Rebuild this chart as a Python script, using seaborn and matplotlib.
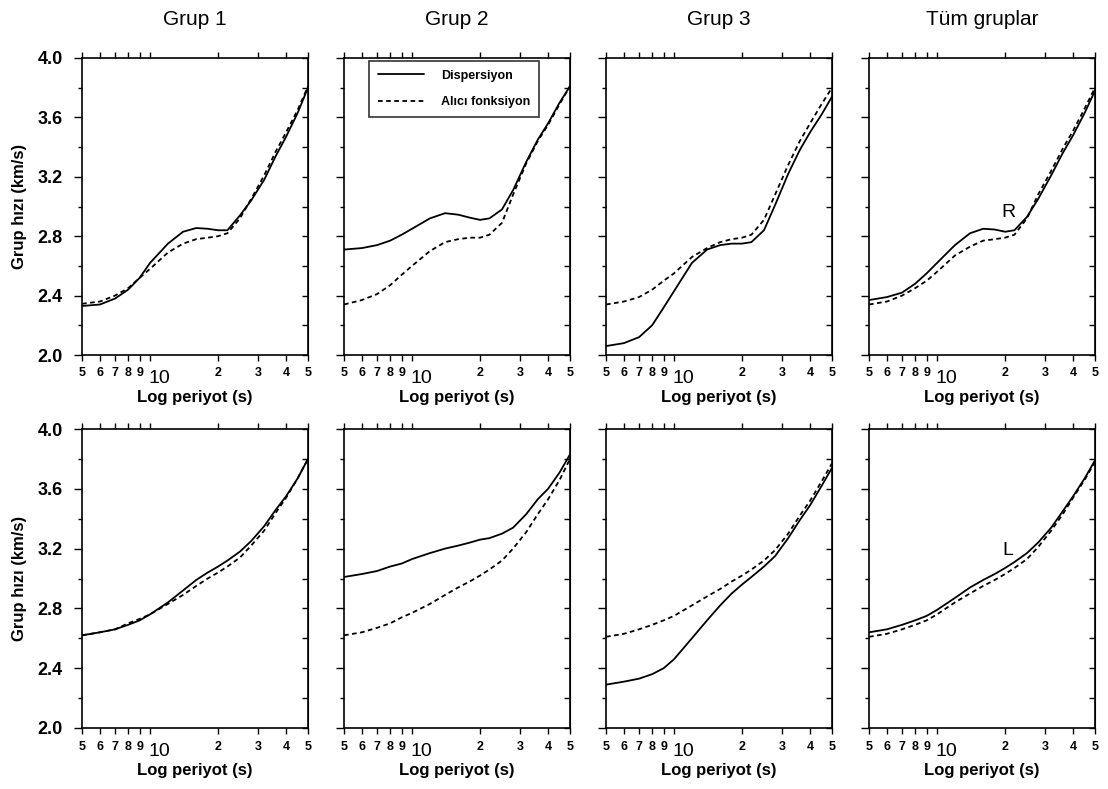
import numpy as np
import pandas as pd
import matplotlib
matplotlib.use('Agg')
import matplotlib.pyplot as plt
from matplotlib.lines import Line2D
from matplotlib.ticker import FixedLocator, NullLocator, MultipleLocator
import seaborn as sns

# periods (s)
periods = [5, 6, 7, 8, 9, 10, 12, 14, 16, 18, 20, 22, 25, 28, 32, 36, 40, 45, 50]

group_names = ['Grup 1', 'Grup 2', 'Grup 3', 'Tüm gruplar']
kinds = ['Dispersiyon', 'Alıcı fonksiyon']

# Rayleigh (R) group velocities, km/s
r_grup1_disp = [2.33, 2.34, 2.38, 2.44, 2.52, 2.62, 2.75, 2.83, 2.855, 2.85, 2.84, 2.84, 2.94, 3.04, 3.18, 3.34, 3.47, 3.63, 3.80]
r_grup1_rf = [2.345, 2.36, 2.40, 2.45, 2.52, 2.58, 2.69, 2.75, 2.78, 2.79, 2.80, 2.82, 2.92, 3.05, 3.21, 3.37, 3.50, 3.65, 3.81]
r_grup2_disp = [2.71, 2.72, 2.74, 2.77, 2.81, 2.85, 2.92, 2.955, 2.945, 2.925, 2.91, 2.92, 2.98, 3.11, 3.30, 3.45, 3.56, 3.70, 3.81]
r_grup2_rf = [2.34, 2.37, 2.41, 2.47, 2.54, 2.60, 2.70, 2.76, 2.78, 2.79, 2.79, 2.81, 2.89, 3.08, 3.29, 3.44, 3.55, 3.69, 3.81]
r_grup3_disp = [2.06, 2.08, 2.12, 2.20, 2.32, 2.43, 2.62, 2.71, 2.74, 2.75, 2.75, 2.76, 2.84, 3.01, 3.22, 3.38, 3.50, 3.62, 3.74]
r_grup3_rf = [2.34, 2.36, 2.39, 2.44, 2.50, 2.55, 2.66, 2.72, 2.76, 2.78, 2.79, 2.81, 2.91, 3.08, 3.28, 3.44, 3.56, 3.69, 3.80]
r_tum_disp = [2.37, 2.39, 2.42, 2.48, 2.55, 2.62, 2.74, 2.82, 2.85, 2.845, 2.83, 2.84, 2.93, 3.05, 3.21, 3.36, 3.48, 3.63, 3.78]
r_tum_rf = [2.34, 2.36, 2.40, 2.45, 2.50, 2.56, 2.67, 2.73, 2.77, 2.78, 2.79, 2.81, 2.92, 3.08, 3.24, 3.39, 3.51, 3.66, 3.80]

# Love (L) group velocities, km/s
l_grup1_disp = [2.62, 2.64, 2.66, 2.69, 2.72, 2.76, 2.84, 2.92, 2.99, 3.04, 3.08, 3.12, 3.18, 3.25, 3.35, 3.46, 3.55, 3.67, 3.80]
l_grup1_rf = [2.62, 2.64, 2.66, 2.70, 2.73, 2.76, 2.83, 2.89, 2.95, 3.00, 3.04, 3.08, 3.14, 3.22, 3.32, 3.44, 3.54, 3.67, 3.80]
l_grup2_disp = [3.01, 3.03, 3.05, 3.08, 3.10, 3.13, 3.17, 3.20, 3.22, 3.24, 3.26, 3.27, 3.30, 3.34, 3.43, 3.53, 3.60, 3.71, 3.83]
l_grup2_rf = [2.62, 2.64, 2.67, 2.70, 2.74, 2.77, 2.83, 2.89, 2.94, 2.98, 3.02, 3.06, 3.12, 3.20, 3.31, 3.43, 3.53, 3.66, 3.80]
l_grup3_disp = [2.29, 2.31, 2.33, 2.36, 2.40, 2.46, 2.60, 2.72, 2.82, 2.90, 2.96, 3.01, 3.08, 3.15, 3.27, 3.39, 3.49, 3.62, 3.74]
l_grup3_rf = [2.61, 2.63, 2.66, 2.69, 2.72, 2.75, 2.82, 2.88, 2.93, 2.98, 3.02, 3.06, 3.12, 3.19, 3.30, 3.42, 3.52, 3.65, 3.77]
l_tum_disp = [2.64, 2.66, 2.69, 2.72, 2.75, 2.79, 2.87, 2.94, 2.99, 3.03, 3.07, 3.11, 3.17, 3.24, 3.34, 3.45, 3.55, 3.67, 3.79]
l_tum_rf = [2.61, 2.63, 2.66, 2.69, 2.72, 2.76, 2.84, 2.90, 2.95, 2.99, 3.03, 3.07, 3.13, 3.21, 3.32, 3.43, 3.54, 3.66, 3.78]

# axis ticks
xtick_pos = [5, 6, 7, 8, 9, 10, 20, 30, 40, 50]
xtick_labels = ['5', '6', '7', '8', '9', '', '2', '3', '4', '5']
ytick_pos = [2.0, 2.4, 2.8, 3.2, 3.6, 4.0]
ytick_labels = ['2.0', '2.4', '2.8', '3.2', '3.6', '4.0']

# wave-type labels placed inside the last column
wave_labels = ['R', 'L']
wave_label_period = [20.6, 20.6]
wave_label_speed = [2.96, 3.19]

series = {
    ('R', 'Grup 1'): (r_grup1_disp, r_grup1_rf),
    ('R', 'Grup 2'): (r_grup2_disp, r_grup2_rf),
    ('R', 'Grup 3'): (r_grup3_disp, r_grup3_rf),
    ('R', 'Tüm gruplar'): (r_tum_disp, r_tum_rf),
    ('L', 'Grup 1'): (l_grup1_disp, l_grup1_rf),
    ('L', 'Grup 2'): (l_grup2_disp, l_grup2_rf),
    ('L', 'Grup 3'): (l_grup3_disp, l_grup3_rf),
    ('L', 'Tüm gruplar'): (l_tum_disp, l_tum_rf),
}

rows = []
for (wave, group), (disp, rf) in series.items():
    for kind, vals in zip(kinds, (disp, rf)):
        for p, v in zip(periods, vals):
            rows.append({'wave': wave, 'group': group, 'kind': kind, 'period': p, 'speed': v})
df = pd.DataFrame(rows)

sns.set_style('ticks', rc={'axes.edgecolor': 'black', 'xtick.color': 'black',
                           'ytick.color': 'black', 'text.color': 'black',
                           'axes.labelcolor': 'black'})
plt.rcParams['font.family'] = ['Liberation Sans', 'DejaVu Sans']

fig = plt.figure(figsize=(11.08, 7.89), dpi=100)
W, H = 1108, 789

# panel placement in pixels
col_left = [82, 344, 606, 869]
col_width = 226
row_box = [(58, 355), (429, 728)]

dash_map = {'Dispersiyon': '', 'Alıcı fonksiyon': (2.6, 1.9)}

for i, wave in enumerate(wave_labels):
    top, bottom = row_box[i]
    for j, group in enumerate(group_names):
        ax = fig.add_axes([col_left[j] / W, 1 - bottom / H, col_width / W, (bottom - top) / H])
        sub = df[(df.wave == wave) & (df.group == group)]
        sns.lineplot(data=sub, x='period', y='speed', style='kind', style_order=kinds,
                     dashes=dash_map, color='black', lw=1.3, legend=False,
                     errorbar=None, ax=ax)
        ax.set_xscale('log')
        ax.set_xlim(5, 50)
        ax.set_ylim(2, 4)

        ax.xaxis.set_major_locator(FixedLocator(xtick_pos))
        ax.xaxis.set_minor_locator(NullLocator())
        ax.set_xticklabels(xtick_labels, fontsize=9, fontweight='bold')
        ax.yaxis.set_major_locator(FixedLocator(ytick_pos))
        ax.yaxis.set_minor_locator(MultipleLocator(0.2))
        if j == 0:
            ax.set_yticklabels(ytick_labels, fontsize=13, fontweight='bold')
            ax.set_ylabel('Grup hızı (km/s)', fontsize=12, fontweight='bold')
            ax.yaxis.set_label_coords(-0.245, 0.5)
        else:
            ax.set_yticklabels([])
            ax.set_ylabel('')

        ax.tick_params(axis='x', which='major', direction='out', length=4, width=1,
                       top=True, pad=5)
        ax.tick_params(axis='y', which='major', direction='out', length=6, width=1, pad=8)
        ax.tick_params(axis='y', which='minor', direction='out', length=3, width=1)
        sec = ax.secondary_yaxis('right')
        sec.yaxis.set_major_locator(MultipleLocator(0.2))
        sec.tick_params(direction='in', length=4, width=1, labelright=False)

        for s in ax.spines.values():
            s.set_linewidth(1.2)

        # the decade label "10" sits larger and lower than the other ticks
        ax.annotate('10', xy=(10, 0), xycoords=('data', 'axes fraction'),
                    xytext=(-1, -11), textcoords='offset points',
                    ha='left', va='top', fontsize=14)
        ax.set_xlabel('Log periyot (s)', fontsize=12, fontweight='bold')
        ax.xaxis.set_label_coords(0.5, -0.118)

        if i == 0:
            ax.set_title(group, fontsize=15, pad=24)

        if j == 3:
            ax.text(wave_label_period[i], wave_label_speed[i], wave, fontsize=14,
                    ha='center', va='center')

        if i == 0 and j == 1:
            handles = [Line2D([], [], color='black', lw=1.3, linestyle='-'),
                       Line2D([], [], color='black', lw=1.3, dashes=(2.6, 1.9))]
            leg = ax.legend(handles, kinds, loc='upper left', bbox_to_anchor=(0.11, 0.99),
                            prop={'size': 9, 'weight': 'bold'}, frameon=True, fancybox=False,
                            handlelength=3.7, handletextpad=1.35, labelspacing=1.15,
                            borderpad=0.7, borderaxespad=0)
            leg.get_frame().set_edgecolor('black')
            leg.get_frame().set_linewidth(1.2)

fig.savefig('out.png', dpi=100)
